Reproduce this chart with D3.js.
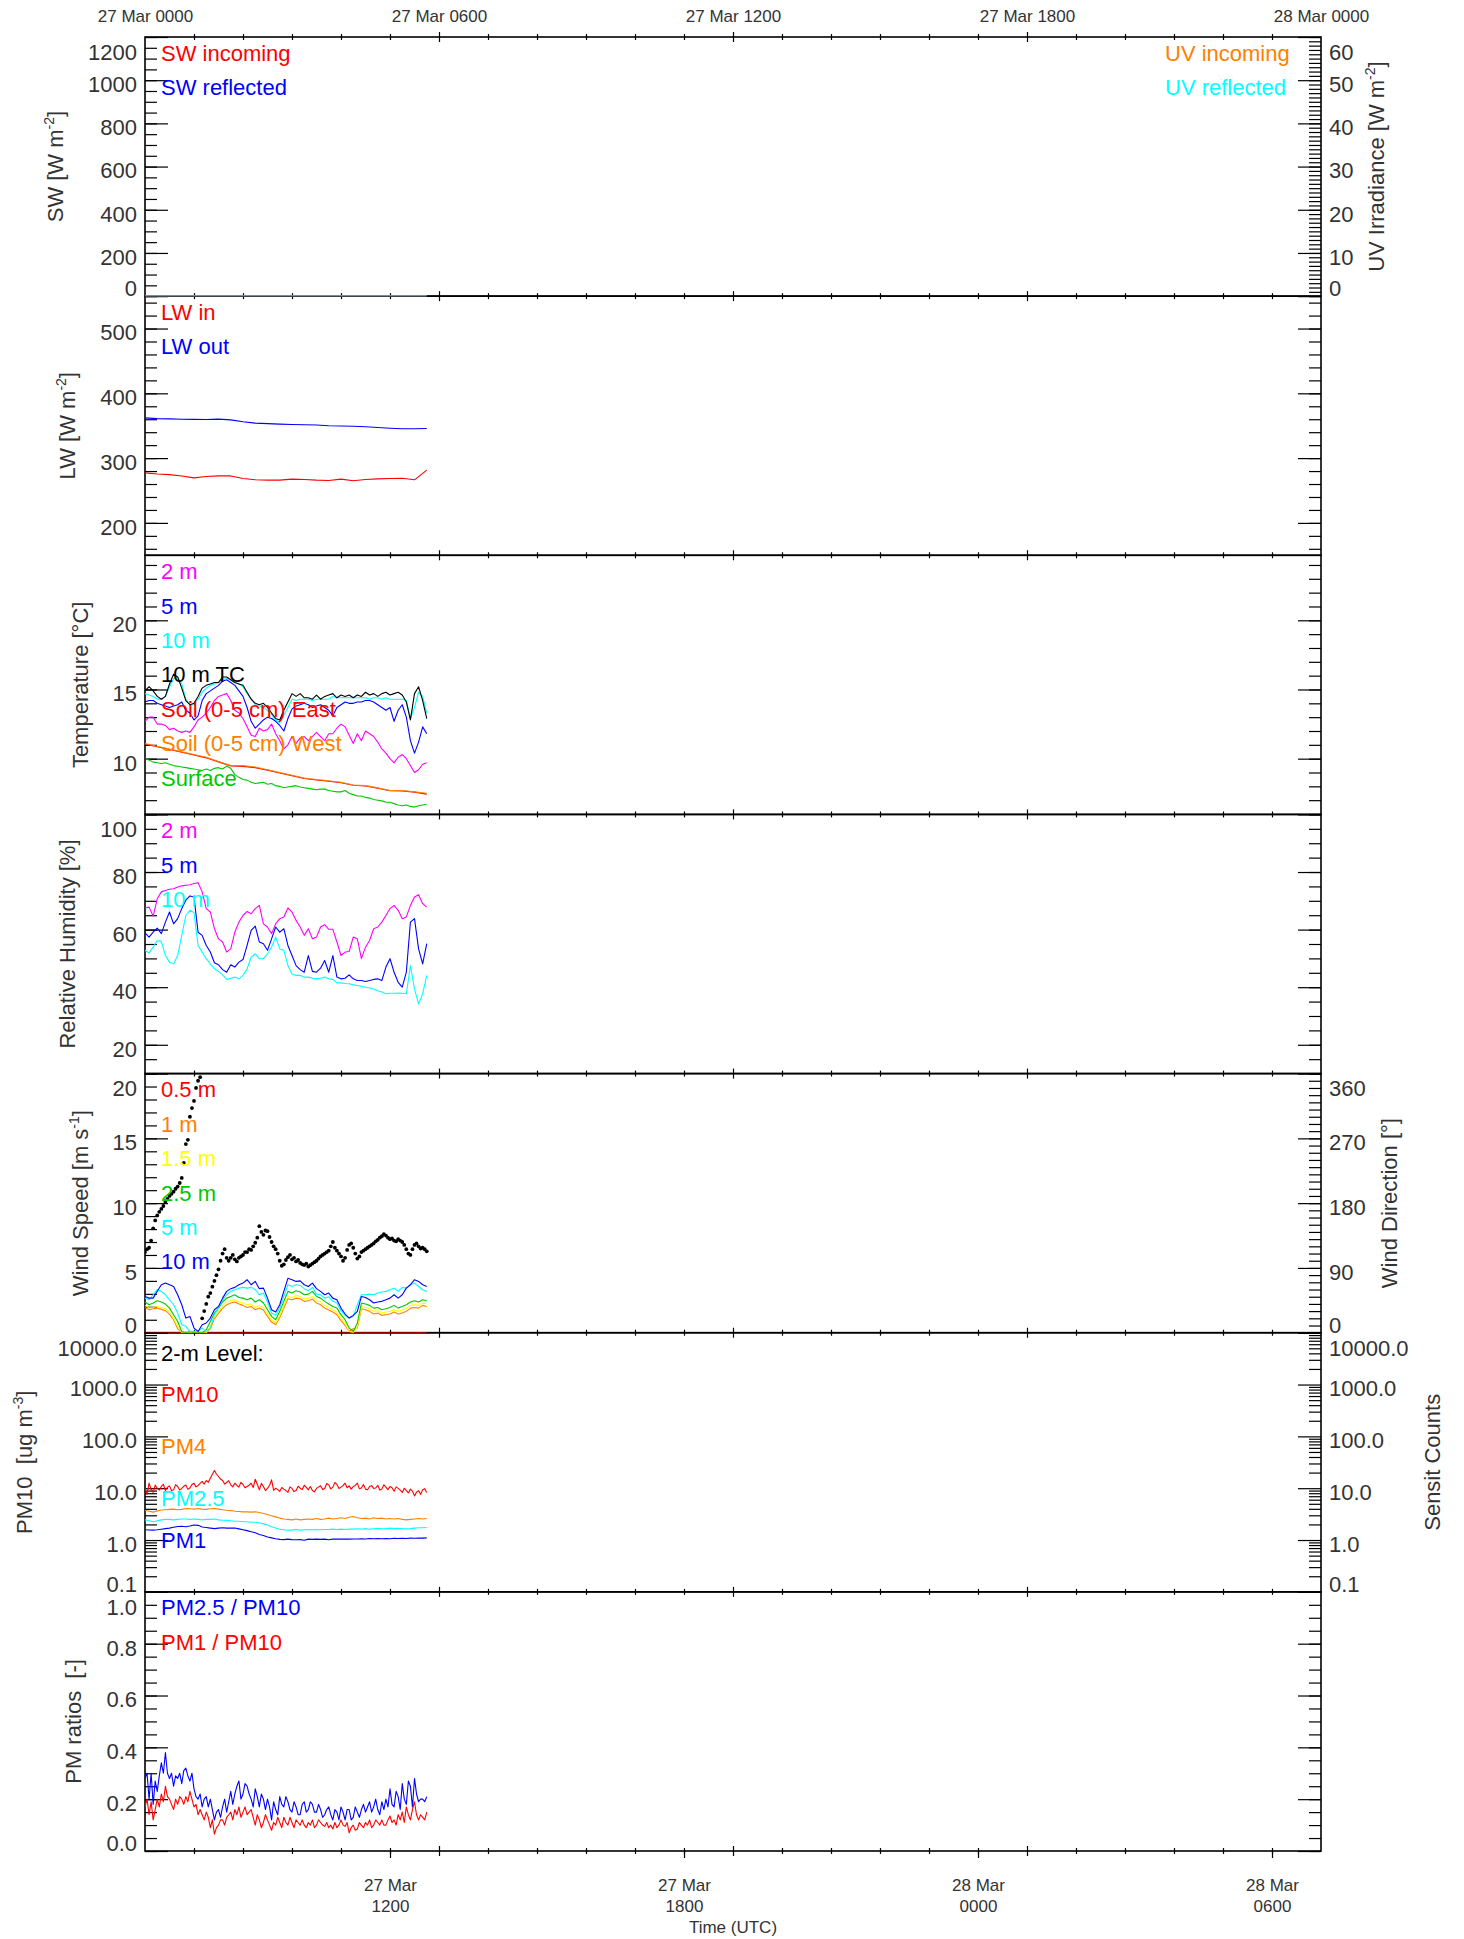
<!DOCTYPE html>
<html><head><meta charset="utf-8">
<script src="https://cdn.jsdelivr.net/npm/d3@7"></script>
<style>
html,body{margin:0;padding:0;background:#fff;}
svg{display:block;font-family:"Liberation Sans",Arial,sans-serif;}
</style></head><body>
<svg id="chart" width="1464" height="1939"></svg>
<script>
// ---------------- DATA ----------------
const topTickMinutes = [0,360,720,1080,1440];
const topTickLabels = ["27 Mar 0000","27 Mar 0600","27 Mar 1200","27 Mar 1800","28 Mar 0000"];
const bottomTickMinutes = [720,1080,1440,1800];
const bottomTickDay = ["27 Mar","27 Mar","28 Mar","28 Mar"];
const bottomTickHour = ["1200","1800","0000","0600"];

const timeFine = [0,5,10,15,20,25,30,35,40,45,50,55,60,65,70,75,80,85,90,95,100,105,110,115,120,125,130,135,140,145,150,155,160,165,170,175,180,185,190,195,200,205,210,215,220,225,230,235,240,245,250,255,260,265,270,275,280,285,290,295,300,305,310,315,320,325,330,335,340,345];
const timeHalf = [0,2.5,5,7.5,10,12.5,15,17.5,20,22.5,25,27.5,30,32.5,35,37.5,40,42.5,45,47.5,50,52.5,55,57.5,60,62.5,65,67.5,70,72.5,75,77.5,80,82.5,85,87.5,90,92.5,95,97.5,100,102.5,105,107.5,110,112.5,115,117.5,120,122.5,125,127.5,130,132.5,135,137.5,140,142.5,145,147.5,150,152.5,155,157.5,160,162.5,165,167.5,170,172.5,175,177.5,180,182.5,185,187.5,190,192.5,195,197.5,200,202.5,205,207.5,210,212.5,215,217.5,220,222.5,225,227.5,230,232.5,235,237.5,240,242.5,245,247.5,250,252.5,255,257.5,260,262.5,265,267.5,270,272.5,275,277.5,280,282.5,285,287.5,290,292.5,295,297.5,300,302.5,305,307.5,310,312.5,315,317.5,320,322.5,325,327.5,330,332.5,335,337.5,340,342.5,345];
const timeCoarse = [0,15,30,45,60,75,90,105,120,135,150,165,180,195,210,225,240,255,270,285,300,315,330,345];

// Panel 1: SW / UV (W m-2)
const swIncoming = [0,0,0,0,0,0,0,0,0,0,0,0,0,0,0,0,0,0,0,0,0,0,0,0];
const swReflected = [0,0,0,0,0,0,0,0,0,0,0,0,0,0,0,0,0,0,0,0,0,0,0,0];
const uvIncoming = [0,0,0,0,0,0,0,0,0,0,0,0,0,0,0,0,0,0,0,0,0,0,0,0];
const uvReflected = [0,0,0,0,0,0,0,0,0,0,0,0,0,0,0,0,0,0,0,0,0,0,0,0];

// Panel 2: LW (W m-2)
const lwIn = [277.2,275.5,274.5,272.5,269.5,271.5,272.5,272.5,268.5,266.5,266,266,267.5,267,266,265.5,267.5,265,267,268,268.5,268.8,266.5,281.5];
const lwOut = [362.1,361,360.5,360,359.8,359.6,360.2,359,356,354,353.2,352.5,351.8,351.5,351,350,349.5,349.2,348.5,347.2,346.2,345.2,345.3,345.6];

// Panel 3: Temperature (deg C)
const temp2m = [12.7,13.0,13.0,12.5,12.5,12.4,12.1,12.2,12.0,11.9,12.0,11.9,12.3,12.8,13.0,13.3,13.7,14.2,14.5,14.6,14.7,14.2,13.5,13.3,12.9,12.3,11.7,11.6,12.2,12.0,12.1,12.5,11.8,11.3,10.7,11.0,11.6,11.1,11.5,11.6,11.3,11.6,11.9,11.6,11.3,11.8,11.8,12.2,12.5,12.3,11.7,11.1,11.8,11.3,12.0,11.8,11.6,11.2,10.7,10.4,10.0,9.7,10.1,10.3,10.0,9.5,9.0,9.2,9.6,9.7];
const temp5m = [14.1,14.2,14.2,14.0,13.9,13.8,13.7,13.8,13.9,14.1,13.5,13.3,12.8,13.1,14.2,14.7,14.9,15.1,15.3,15.6,15.7,15.5,15.3,14.9,14.5,13.7,12.7,12.2,12.5,12.8,13.0,12.9,12.7,12.4,12.0,12.9,13.6,13.8,13.9,14.0,13.9,13.7,13.8,13.9,13.7,13.5,13.1,13.7,13.9,14.1,14.0,14.0,14.1,14.1,14.2,14.2,14.1,13.9,13.7,13.5,13.7,12.7,13.5,13.9,13.0,11.3,10.4,11.2,12.3,11.8];
const temp10m = [14.7,14.6,14.5,14.3,14.3,14.5,15.2,15.8,15.9,15.4,14.3,13.9,13.9,14.3,14.8,15.1,15.3,15.4,15.5,15.7,15.8,15.7,15.5,15.4,15.2,14.7,14.3,13.9,13.8,13.7,13.5,13.2,12.8,12.6,13.1,13.7,14.3,14.2,14.3,14.3,14.3,14.2,14.3,14.3,14.3,14.3,14.5,14.4,14.4,14.4,14.4,14.4,14.4,14.4,14.4,14.3,14.4,14.4,14.3,14.4,14.3,14.3,14.3,14.3,14.2,12.9,13.7,14.8,14.5,13.3];
const temp10mTC = [14.9,15.2,14.9,14.5,14.3,14.5,15.4,16.1,15.9,15.1,14.2,13.9,14.0,14.5,15.1,15.3,15.4,15.5,15.5,15.9,15.9,15.7,15.5,15.4,15.3,14.8,14.3,14.0,13.9,14.0,13.7,13.3,12.9,12.8,13.5,14.1,14.7,14.5,14.7,14.4,14.4,14.3,14.6,14.3,14.5,14.6,14.7,14.4,14.6,14.5,14.6,14.4,14.6,14.5,14.8,14.6,14.7,14.5,14.7,14.8,14.6,14.7,14.8,14.6,14.1,12.8,14.7,15.2,14.2,12.9];
const soilEast = [11.05,10.86,10.66,10.46,10.27,10.06,9.77,9.47,9.44,9.35,9.17,8.97,8.76,8.57,8.46,8.37,8.26,8.08,8.02,7.86,7.68,7.66,7.58,7.44];
const soilWest = [11.1,10.9,10.7,10.5,10.3,10.1,9.8,9.5,9.5,9.4,9.2,9.0,8.8,8.6,8.5,8.4,8.3,8.1,8.05,7.9,7.7,7.7,7.6,7.5];
const surfaceTemp = [10.0,9.9,9.75,9.7,9.65,9.7,9.6,9.5,9.45,9.4,9.35,9.3,9.25,9.2,9.15,9.25,9.15,9.3,9.35,9.25,9.45,9.3,8.85,8.65,8.5,8.45,8.3,8.2,8.25,8.3,8.15,8.2,8.05,8.0,7.9,7.95,8.0,8.05,7.95,7.9,7.85,7.8,7.75,7.8,7.8,7.7,7.65,7.6,7.6,7.7,7.5,7.4,7.3,7.3,7.2,7.15,7.05,7.0,6.95,6.85,6.85,6.75,6.65,6.6,6.65,6.55,6.5,6.6,6.65,6.7];

// Panel 4: Relative humidity (%)
const rh2m = [67.5,67.8,64.7,70.7,73.1,73.6,74.0,74.2,74.8,75.2,75.4,75.6,76.0,76.3,73.1,67.3,66.1,60.3,56.8,55.7,52.2,53.3,59.1,62.6,64.9,66.3,65.5,67.3,68.4,62.0,60.9,58.6,62.0,63.8,64.4,67.5,66.1,63.2,60.9,58.0,60.3,56.8,57.4,60.9,61.7,60.1,60.1,55.7,51.0,52.2,52.4,57.4,56.8,49.9,53.9,56.2,60.3,60.9,62.6,64.9,67.3,68.4,66.7,63.8,64.4,68.4,71.3,72.1,69.0,67.8];
const rh5m = [58.9,57.4,59.1,60.5,58.6,62.6,66.1,62.0,63.8,67.3,70.2,71.7,71.3,59.1,58.0,54.5,52.2,48.5,47.8,46.1,45.2,47.8,47.0,48.7,49.6,54.5,59.7,61.2,55.7,55.1,52.8,56.8,60.9,59.1,60.3,54.5,51.0,47.5,46.1,45.2,51.0,45.5,45.2,46.6,49.3,45.2,51.0,43.5,42.9,43.1,44.3,42.9,42.3,42.3,42.0,42.3,42.7,42.9,42.3,47.0,49.9,45.2,41.7,40.0,45.2,62.6,63.8,53.3,48.1,55.1];
const rh10m = [52.8,51.9,53.9,56.2,55.9,51.0,48.7,48.1,51.0,58.0,64.9,66.7,65.9,54.5,52.2,49.9,48.1,46.4,45.5,44.3,42.7,43.1,43.5,42.9,44.1,46.4,50.4,51.6,49.9,49.9,51.6,53.9,57.4,53.3,52.8,47.5,44.6,44.1,44.1,43.5,43.5,43.1,42.9,43.1,43.5,42.9,42.7,41.5,41.5,41.3,41.2,40.8,40.6,40.3,40.0,39.7,39.4,38.8,38.3,37.7,37.9,37.9,38.0,37.9,37.7,47.5,39.4,34.2,37.7,44.1];

// Panel 5: Wind speed (m s-1) and direction (deg)
const ws05m = [0,0,0,0,0,0,0,0,0,0,0,0,0,0,0,0,0,0,0,0,0,0,0,0,0,0,0,0,0,0,0,0,0,0,0,0,0,0,0,0,0,0,0,0,0,0,0,0,0,0,0,0,0,0,0,0,0,0,0,0,0,0,0,0,0,0,0,0,0,0];
const ws1m = [1.95,1.77,1.85,1.9,1.8,1.7,1.44,1.0,0.31,0,0,0,0,0,0,0,0.31,1.08,1.49,1.9,2.16,2.29,2.37,2.21,2.11,1.95,2.03,1.77,1.9,1.75,1.26,0.82,0.62,1.18,1.9,2.62,2.54,2.67,2.62,2.42,2.47,2.6,2.29,2.16,1.9,1.75,1.6,1.39,0.93,0.57,0.1,0.31,0.36,1.85,1.77,1.65,1.44,1.52,1.34,1.39,1.44,1.6,1.44,1.52,1.65,1.9,1.95,1.9,2.11,2.03];
const ws15m = [2.11,1.9,1.95,2.03,1.95,1.85,1.6,1.13,0.49,0,0,0,0,0,0,0,0.49,1.26,1.65,2.11,2.37,2.47,2.54,2.37,2.29,2.16,2.21,1.95,2.11,1.95,1.44,1.0,0.75,1.34,2.11,2.8,2.72,2.88,2.8,2.62,2.67,2.8,2.47,2.37,2.11,1.95,1.77,1.6,1.13,0.75,0.1,0,0.49,2.03,1.95,1.85,1.65,1.7,1.52,1.6,1.65,1.77,1.65,1.75,1.85,2.11,2.16,2.11,2.29,2.21];
const ws25m = [2.37,2.16,2.29,2.47,2.37,2.21,1.9,1.39,0.87,0.1,0,0.1,0,0,0,0.23,0.87,1.52,1.9,2.37,2.67,2.8,2.93,2.72,2.67,2.54,2.67,2.37,2.54,2.29,1.77,1.26,1.0,1.65,2.42,3.19,3.06,3.24,3.14,2.93,2.98,3.19,2.8,2.67,2.42,2.21,2.03,1.9,1.39,1.0,0.36,0.1,0.75,2.29,2.21,2.11,1.9,1.95,1.77,1.85,1.95,2.11,1.9,2.03,2.16,2.37,2.47,2.37,2.54,2.47];
const ws5m = [2.67,2.54,2.93,3.32,3.19,2.93,2.54,2.16,1.52,0.62,0.49,0.1,0.1,0.1,0.36,0.1,0.36,1.39,1.9,2.54,2.93,3.19,3.32,3.44,3.5,3.44,3.5,3.32,2.93,3.06,2.37,1.52,1.34,1.9,2.8,3.7,3.57,3.7,3.65,3.4,3.24,3.5,2.98,2.93,2.67,2.78,2.42,2.29,1.7,1.34,1.13,1.26,2.16,2.93,2.93,2.98,2.93,3.06,3.14,3.19,3.32,3.44,3.19,3.5,3.44,3.7,3.83,3.57,3.32,3.19];
const ws10m = [2.8,2.67,2.67,3.2,3.7,3.83,3.7,3.57,2.93,2.16,1.13,1.26,0.36,0.1,0.62,0.75,1.13,1.77,2.03,2.67,3.19,3.4,3.5,3.7,3.83,4.09,3.7,3.96,3.4,3.44,2.67,1.77,1.6,2.16,3.19,4.2,4.09,3.96,4.0,3.7,3.57,3.83,3.4,3.19,2.93,3.06,2.67,2.54,1.9,1.44,1.13,1.34,1.65,2.8,2.72,2.54,2.29,2.37,2.42,2.54,2.67,2.93,2.67,2.93,3.44,3.7,4.09,3.96,3.7,3.57];
const windDir = [112,116,118,128,145,156,163,168,172,176,182,186,190,193,196,200,203,208,215,236,262,268,300,312,322,340,350,355,20,30,40,50,55,64,72,80,88,100,110,116,104,100,104,108,102,99,104,106,108,112,112,116,115,120,125,132,148,140,136,142,141,133,126,120,116,110,100,93,95,101,105,108,102,104,99,101,97,95,94,96,92,94,96,98,100,103,106,108,110,112,114,120,126,118,114,110,106,100,104,115,122,124,118,110,103,106,112,114,116,118,120,122,124,127,129,132,134,137,135,132,130,131,128,127,130,128,126,122,116,110,108,116,122,124,120,117,118,116,113];

// Panel 6: PM concentrations (ug m-3, log)
const pm10 = [10.0,7.6,12.5,9.5,8.3,11.5,10.0,9.2,10.8,11.9,9.0,10.4,11.1,9.0,9.3,11.7,10.8,9.2,9.9,10.9,11.6,9.5,10.1,11.8,12.5,10.6,11.3,12.4,13.5,12.0,14.1,13.0,15.6,18.5,22.0,18.8,16.8,15.0,14.1,12.0,12.9,14.0,11.6,10.6,12.5,11.3,10.5,13.0,11.8,10.2,10.8,11.4,12.5,10.3,14.9,11.9,9.3,12.4,10.8,9.0,9.9,11.3,14.5,9.1,10.0,9.4,8.7,10.3,9.6,9.0,8.3,10.6,9.9,8.6,9.0,10.9,10.0,9.4,11.4,10.4,9.3,10.8,9.0,8.5,9.9,10.6,11.1,9.4,9.9,12.3,11.6,9.7,10.5,12.9,11.8,9.9,10.5,11.2,12.5,10.2,11.1,9.6,10.8,11.3,12.5,9.8,10.1,11.8,9.6,9.3,10.8,11.2,9.9,10.1,11.4,9.2,9.6,11.6,10.5,9.4,10.8,10.2,8.7,10.6,9.9,9.2,8.3,10.0,9.0,8.1,9.6,8.8,7.1,8.4,9.0,7.6,9.3,9.8,8.3];
const pm4 = [3.75,3.6,3.45,3.65,3.8,3.85,3.9,3.95,3.85,3.9,4.05,4.0,3.95,4.05,3.95,3.9,4.0,4.05,3.95,3.85,3.75,3.7,3.6,3.55,3.5,3.5,3.45,3.5,3.4,3.25,3.1,2.95,2.8,2.65,2.55,2.5,2.45,2.55,2.45,2.5,2.55,2.5,2.6,2.5,2.55,2.65,2.55,2.6,2.7,2.6,2.75,2.85,2.7,2.6,2.65,2.55,2.7,2.6,2.65,2.55,2.6,2.55,2.6,2.5,2.45,2.5,2.55,2.6,2.55,2.6];
const pm25 = [2.45,2.35,2.25,2.35,2.45,2.5,2.5,2.45,2.5,2.55,2.55,2.5,2.55,2.5,2.45,2.5,2.5,2.55,2.45,2.4,2.4,2.35,2.3,2.3,2.25,2.25,2.2,2.2,2.15,2.05,1.95,1.8,1.7,1.62,1.58,1.55,1.55,1.6,1.55,1.58,1.6,1.58,1.6,1.58,1.6,1.6,1.62,1.6,1.62,1.6,1.63,1.62,1.65,1.62,1.66,1.62,1.65,1.68,1.65,1.66,1.7,1.66,1.68,1.65,1.64,1.66,1.7,1.72,1.72,1.75];
const pm1 = [1.58,1.56,1.55,1.58,1.62,1.66,1.7,1.76,1.82,1.84,1.8,1.86,1.95,1.92,1.78,1.74,1.7,1.66,1.7,1.72,1.7,1.7,1.7,1.64,1.58,1.52,1.44,1.38,1.28,1.22,1.14,1.1,1.06,1.03,1.02,1.04,1.02,1.01,1.02,0.99,1.04,1.03,1.04,1.03,1.04,1.01,1.04,1.04,1.04,1.05,1.04,1.05,1.05,1.06,1.05,1.07,1.06,1.07,1.06,1.07,1.06,1.08,1.07,1.08,1.07,1.09,1.08,1.09,1.09,1.1];

// Panel 7: PM ratios (-)
const ratioPm25Pm10 = [0.28,0.3,0.2,0.3,0.18,0.27,0.23,0.29,0.34,0.3,0.38,0.3,0.28,0.3,0.25,0.29,0.28,0.3,0.26,0.31,0.32,0.29,0.27,0.3,0.24,0.21,0.2,0.22,0.17,0.2,0.21,0.17,0.2,0.16,0.12,0.15,0.16,0.13,0.17,0.2,0.15,0.19,0.23,0.18,0.22,0.25,0.27,0.2,0.22,0.26,0.25,0.22,0.2,0.17,0.24,0.21,0.17,0.22,0.2,0.16,0.2,0.17,0.12,0.19,0.16,0.14,0.21,0.18,0.17,0.21,0.19,0.16,0.15,0.19,0.17,0.14,0.14,0.18,0.19,0.15,0.16,0.19,0.18,0.15,0.15,0.18,0.16,0.13,0.14,0.16,0.17,0.14,0.12,0.16,0.15,0.12,0.17,0.15,0.12,0.16,0.16,0.12,0.13,0.17,0.15,0.13,0.16,0.18,0.15,0.17,0.19,0.15,0.17,0.2,0.16,0.14,0.19,0.16,0.2,0.17,0.24,0.18,0.17,0.23,0.21,0.16,0.26,0.2,0.18,0.27,0.25,0.17,0.28,0.22,0.19,0.2,0.2,0.19,0.21];
const ratioPm1Pm10 = [0.17,0.2,0.14,0.19,0.12,0.16,0.2,0.17,0.22,0.19,0.25,0.21,0.2,0.18,0.16,0.2,0.18,0.21,0.2,0.18,0.21,0.19,0.23,0.2,0.17,0.18,0.14,0.16,0.14,0.12,0.15,0.13,0.09,0.12,0.065,0.09,0.1,0.12,0.12,0.1,0.13,0.14,0.15,0.12,0.16,0.14,0.17,0.13,0.15,0.17,0.14,0.15,0.16,0.13,0.1,0.14,0.12,0.09,0.11,0.14,0.12,0.1,0.08,0.11,0.1,0.13,0.11,0.09,0.13,0.11,0.1,0.13,0.11,0.09,0.12,0.11,0.1,0.12,0.1,0.09,0.11,0.1,0.12,0.09,0.1,0.12,0.11,0.1,0.095,0.11,0.09,0.1,0.085,0.11,0.09,0.1,0.12,0.1,0.095,0.11,0.07,0.09,0.1,0.08,0.085,0.11,0.1,0.09,0.11,0.1,0.12,0.09,0.1,0.12,0.11,0.1,0.12,0.1,0.1,0.12,0.135,0.11,0.12,0.1,0.14,0.12,0.15,0.11,0.17,0.14,0.12,0.16,0.19,0.14,0.12,0.14,0.13,0.12,0.15];

// ---------------- LAYOUT ----------------
const L = 145, R = 1321, T0 = 37, B = 1851, NP = 7, PH = (B - T0) / NP;
const FONT = '"Liberation Sans", Arial, sans-serif';
const TXT = '#333';
const C = {red:'#ff0000', blue:'#0000ff', cyan:'#00ffff', magenta:'#ff00ff', orange:'#ff8000', yellow:'#ffff00', green:'#00c800', black:'#000000'};

const svg = d3.select('#chart');
const x = d3.scaleLinear().domain([0, 1440]).range([L, R]);
const xb = d3.scaleLinear().domain([420, 1860]).range([L, R]);
const pTop = i => T0 + i * PH;
const pBot = i => T0 + (i + 1) * PH;

const defs = svg.append('defs');
for (let i = 0; i < NP; i++) {
  defs.append('clipPath').attr('id', 'clip' + i).append('rect')
    .attr('x', L).attr('y', pTop(i)).attr('width', R - L).attr('height', PH);
}

// frames
const frameG = svg.append('g');
for (let i = 0; i < NP; i++) {
  frameG.append('rect').attr('x', L).attr('y', pTop(i)).attr('width', R - L).attr('height', PH)
    .attr('fill', 'none').attr('stroke', '#000').attr('stroke-width', 1.6);
}

// x ticks on every boundary
const hourMinor = d3.range(60, 1440, 60).filter(h => h % 360 !== 0);
const hourMajor = [360, 720, 1080];
for (let i = 0; i <= NP; i++) {
  const yb = T0 + i * PH;
  [d3.axisTop, d3.axisBottom].forEach(gen => {
    const g1 = svg.append('g').attr('transform', `translate(0,${yb})`)
      .call(gen(x).tickValues(hourMinor).tickSize(3).tickFormat(''));
    g1.select('.domain').remove();
    const g2 = svg.append('g').attr('transform', `translate(0,${yb})`)
      .call(gen(x).tickValues(hourMajor).tickSize(5).tickFormat(''));
    g2.select('.domain').remove();
  });
}
svg.selectAll('.tick line').attr('stroke', '#000').attr('stroke-width', 1.2);

// top axis labels
const topAx = svg.append('g').attr('transform', `translate(0,${T0})`)
  .call(d3.axisTop(x).tickValues(topTickMinutes).tickSize(0).tickPadding(15)
    .tickFormat((d, i) => topTickLabels[i]));
topAx.select('.domain').remove();
topAx.attr('font-family', null).attr('font-size', null);
topAx.selectAll('text').attr('font-family', FONT).attr('font-size', 17).attr('fill', TXT);

// bottom axis (labels)
const botAx = svg.append('g').attr('transform', `translate(0,${B})`)
  .call(d3.axisBottom(xb).tickValues(bottomTickMinutes).tickSize(7).tickFormat(''));
botAx.select('.domain').remove();
botAx.selectAll('line').attr('stroke', '#000').attr('stroke-width', 1.2);
botAx.selectAll('.tick').each(function(d, i) {
  const t = d3.select(this).append('text').attr('text-anchor', 'middle')
    .attr('font-family', FONT).attr('font-size', 17).attr('fill', TXT);
  t.append('tspan').attr('x', 0).attr('y', 1891 - B).text(bottomTickDay[i]);
  t.append('tspan').attr('x', 0).attr('y', 1912 - B).text(bottomTickHour[i]);
});
svg.append('text').attr('x', (L + R) / 2).attr('y', 1933).attr('text-anchor', 'middle')
  .attr('font-family', FONT).attr('font-size', 17).attr('fill', TXT).text('Time (UTC)');

// ---------------- helpers ----------------
function yAxis(side, scale, majors, minors, fmt, pi) {
  const gen = side === 'left' ? d3.axisLeft : d3.axisRight;
  const xp = side === 'left' ? L : R;
  const top = pTop(pi), bot = pBot(pi);
  const gMin = svg.append('g').attr('transform', `translate(${xp},0)`)
    .call(gen(scale).tickValues(minors).tickSize(-12).tickFormat(''));
  gMin.select('.domain').remove();
  const gMaj = svg.append('g').attr('transform', `translate(${xp},0)`)
    .call(gen(scale).tickValues(majors).tickSize(-23).tickPadding(8).tickFormat(fmt || ''));
  gMaj.select('.domain').remove();
  [gMin, gMaj].forEach(g => g.selectAll('line').attr('stroke', '#000').attr('stroke-width', 1.2));
  gMaj.attr('font-family', null).attr('font-size', null);
  if (fmt) {
    gMaj.selectAll('text').attr('font-family', FONT).attr('font-size', 22).attr('fill', TXT)
      .attr('dy', null)
      .attr('y', d => {
        const c = Math.max(top + 14.5, Math.min(bot - 8.5, scale(d) + 3.5));
        return c - scale(d) + 7.9;
      });
  } else {
    gMaj.selectAll('text').remove();
  }
  return gMaj;
}
function yTitle(gMaj, side, parts, pi) {
  const rects = gMaj.selectAll('text').nodes().map(n => n.getBoundingClientRect());
  let bx;
  if (side === 'left') bx = d3.min(rects, r => r.left) - 25;
  else bx = d3.max(rects, r => r.right) + 31;
  const cy = (pTop(pi) + pBot(pi)) / 2;
  const t = svg.append('text').attr('transform', `translate(${bx},${cy}) rotate(-90)`)
    .attr('text-anchor', 'middle').attr('font-family', FONT).attr('font-size', 22)
    .attr('fill', TXT).style('white-space', 'pre');
  parts.forEach(p => {
    const s = t.append('tspan').text(p.t);
    if (p.dy) s.attr('dy', p.dy);
    if (p.fs) s.attr('font-size', p.fs);
  });
}
function drawLines(pi, times, series, yScale) {
  const g = svg.append('g').attr('clip-path', `url(#clip${pi})`);
  series.forEach(s => {
    g.append('path').datum(s.values).attr('fill', 'none').attr('stroke', s.color)
      .attr('stroke-width', 1.1).attr('stroke-linejoin', 'round')
      .attr('d', d3.line().x((d, i) => x(times[i])).y(d => yScale(d)));
  });
  return g;
}
function legend(pi, items, xPos, offsets) {
  items.forEach((it, i) => {
    const c = pTop(pi) + (offsets ? offsets[i] : 16 + i * 34.4);
    svg.append('text').attr('x', xPos).attr('y', c + 7.9).attr('font-family', FONT)
      .attr('font-size', 22).attr('fill', it.color).text(it.label);
  });
}
const sup = (a, s, b) => [{t: a}, {t: s, dy: -9, fs: 14}, {t: b, dy: 9}];

// ---------------- Panel 1: SW / UV ----------------
{
  const pi = 0;
  const y = d3.scaleLinear().domain([0, 1200]).range([pBot(pi), pTop(pi)]);
  const yUV = d3.scaleLinear().domain([0, 60]).range([pBot(pi), pTop(pi)]);
  const g = yAxis('left', y, [0,200,400,600,800,1000,1200], d3.range(0, 1201, 50), d3.format('d'), pi);
  yTitle(g, 'left', sup('SW [W m', '-2', ']'), pi);
  const gr = yAxis('right', yUV, [0,10,20,30,40,50,60], d3.range(0, 61, 1), d3.format('d'), pi);
  yTitle(gr, 'right', sup('UV Irradiance [W m', '-2', ']'), pi);
  drawLines(pi, timeCoarse, [{values: swIncoming, color: C.red}, {values: swReflected, color: C.blue}], y);
  drawLines(pi, timeCoarse, [{values: uvIncoming, color: C.orange}, {values: uvReflected, color: C.cyan}], yUV);
  legend(pi, [{label: 'SW incoming', color: C.red}, {label: 'SW reflected', color: C.blue}], 161);
  legend(pi, [{label: 'UV incoming', color: C.orange}, {label: 'UV reflected', color: C.cyan}], 1165);
}
// ---------------- Panel 2: LW ----------------
{
  const pi = 1;
  const y = d3.scaleLinear().domain([150, 550]).range([pBot(pi), pTop(pi)]);
  const g = yAxis('left', y, [200,300,400,500], d3.range(160, 551, 20), d3.format('d'), pi);
  yTitle(g, 'left', sup('LW [W m', '-2', ']'), pi);
  yAxis('right', y, [200,300,400,500], d3.range(160, 551, 20), null, pi);
  drawLines(pi, timeCoarse, [{values: lwIn, color: C.red}, {values: lwOut, color: C.blue}], y);
  legend(pi, [{label: 'LW in', color: C.red}, {label: 'LW out', color: C.blue}], 161);
}
// ---------------- Panel 3: Temperature ----------------
{
  const pi = 2;
  const y = d3.scaleLinear().domain([5.97, 24.7]).range([pBot(pi), pTop(pi)]);
  const g = yAxis('left', y, [10,15,20], d3.range(6, 25, 1), d3.format('d'), pi);
  yTitle(g, 'left', [{t: 'Temperature [°C]'}], pi);
  yAxis('right', y, [10,15,20], d3.range(6, 25, 1), null, pi);
  drawLines(pi, timeFine, [
    {values: temp2m, color: C.magenta}, {values: temp5m, color: C.blue},
    {values: temp10m, color: C.cyan}, {values: temp10mTC, color: C.black}], y);
  drawLines(pi, timeCoarse, [{values: soilEast, color: C.red}, {values: soilWest, color: C.orange}], y);
  drawLines(pi, timeFine, [{values: surfaceTemp, color: C.green}], y);
  legend(pi, [
    {label: '2 m', color: C.magenta}, {label: '5 m', color: C.blue}, {label: '10 m', color: C.cyan},
    {label: '10 m TC', color: C.black}, {label: 'Soil (0-5 cm) East', color: C.red},
    {label: 'Soil (0-5 cm) West', color: C.orange}, {label: 'Surface', color: C.green}], 161);
}
// ---------------- Panel 4: RH ----------------
{
  const pi = 3;
  const y = d3.scaleLinear().domain([10, 100]).range([pBot(pi), pTop(pi)]);
  const g = yAxis('left', y, [20,40,60,80,100], d3.range(10, 101, 5), d3.format('d'), pi);
  yTitle(g, 'left', [{t: 'Relative Humidity [%]'}], pi);
  yAxis('right', y, [20,40,60,80,100], d3.range(10, 101, 5), null, pi);
  drawLines(pi, timeFine, [{values: rh2m, color: C.magenta}, {values: rh5m, color: C.blue}, {values: rh10m, color: C.cyan}], y);
  legend(pi, [{label: '2 m', color: C.magenta}, {label: '5 m', color: C.blue}, {label: '10 m', color: C.cyan}], 161);
}
// ---------------- Panel 5: Wind ----------------
{
  const pi = 4;
  const y = d3.scaleLinear().domain([0, 20]).range([pBot(pi), pTop(pi)]);
  const yD = d3.scaleLinear().domain([0, 360]).range([pBot(pi), pTop(pi)]);
  const g = yAxis('left', y, [0,5,10,15,20], d3.range(0, 21, 1), d3.format('d'), pi);
  yTitle(g, 'left', sup('Wind Speed [m s', '-1', ']'), pi);
  const gr = yAxis('right', yD, [0,90,180,270,360], d3.range(0, 361, 10), d3.format('d'), pi);
  yTitle(gr, 'right', [{t: 'Wind Direction [°]'}], pi);
  drawLines(pi, timeFine, [
    {values: ws05m, color: C.red}, {values: ws1m, color: C.orange}, {values: ws15m, color: C.yellow},
    {values: ws25m, color: C.green}, {values: ws5m, color: C.cyan}, {values: ws10m, color: C.blue}], y);
  svg.append('g').attr('clip-path', `url(#clip${pi})`).selectAll('circle').data(windDir).join('circle')
    .attr('cx', (d, i) => x(timeHalf[i])).attr('cy', d => yD(d)).attr('r', 1.9).attr('fill', '#000');
  legend(pi, [
    {label: '0.5 m', color: C.red}, {label: '1 m', color: C.orange}, {label: '1.5 m', color: C.yellow},
    {label: '2.5 m', color: C.green}, {label: '5 m', color: C.cyan}, {label: '10 m', color: C.blue}], 161);
}
// ---------------- Panel 6: PM ----------------
{
  const pi = 5;
  const y = d3.scaleLog().domain([0.1, 10000]).range([pBot(pi), pTop(pi)]);
  const majors = [0.1, 1, 10, 100, 1000, 10000];
  const minors = [];
  [0.1, 1, 10, 100, 1000].forEach(dec => { for (let k = 2; k <= 9; k++) minors.push(dec * k); });
  const g = yAxis('left', y, majors, minors, d3.format('.1f'), pi);
  yTitle(g, 'left', sup('PM10  [ug m', '-3', ']'), pi);
  const gr = yAxis('right', y, majors, minors, d3.format('.1f'), pi);
  yTitle(gr, 'right', [{t: 'Sensit Counts'}], pi);
  drawLines(pi, timeHalf, [{values: pm10, color: C.red}], y);
  drawLines(pi, timeFine, [
    {values: pm4, color: C.orange}, {values: pm25, color: C.cyan}, {values: pm1, color: C.blue}], y);
  legend(pi, [
    {label: '2-m Level:', color: C.black}, {label: 'PM10', color: C.red}, {label: 'PM4', color: C.orange},
    {label: 'PM2.5', color: C.cyan}, {label: 'PM1', color: C.blue}], 161, [20.7, 61.4, 113.4, 165.1, 207.4]);
}
// ---------------- Panel 7: PM ratios ----------------
{
  const pi = 6;
  const y = d3.scaleLinear().domain([0, 1]).range([pBot(pi), pTop(pi)]);
  const g = yAxis('left', y, [0,0.2,0.4,0.6,0.8,1.0], d3.range(0, 1.001, 0.05), d3.format('.1f'), pi);
  yTitle(g, 'left', [{t: 'PM ratios  [-]'}], pi);
  yAxis('right', y, [0,0.2,0.4,0.6,0.8,1.0], d3.range(0, 1.001, 0.05), null, pi);
  drawLines(pi, timeHalf, [{values: ratioPm25Pm10, color: C.blue}, {values: ratioPm1Pm10, color: C.red}], y);
  legend(pi, [{label: 'PM2.5 / PM10', color: C.blue}, {label: 'PM1 / PM10', color: C.red}], 161, [15, 50]);
}
</script>
</body></html>
